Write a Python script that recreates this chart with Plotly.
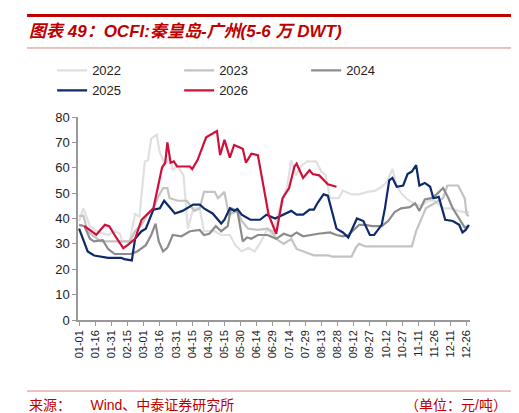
import plotly.graph_objects as go

# day-of-year (0 = 01-01) and value pairs
DAYS_2022 = [0, 4, 10, 16, 27, 33, 38, 40, 47, 52, 56, 61, 64, 67, 72, 75, 80, 84, 87, 91, 94, 97, 101, 106, 112, 116, 126, 132, 140, 145, 151, 157, 163, 169, 175, 179, 183, 188, 193, 197, 201, 207, 212, 220, 225, 229, 233, 241, 245, 253, 260, 268, 275, 281, 286, 291, 295, 299, 305, 312, 318, 324, 330, 338, 345, 352, 358, 362]
VALS_2022 = [39, 44, 37, 35, 33.5, 35, 34, 31, 31, 42, 40.5, 62.5, 63, 71.5, 73, 66, 61, 64, 59, 61, 59, 57, 36, 44, 44, 35, 35, 33.5, 33.5, 29.5, 27, 28.5, 27, 31, 36, 33.5, 39, 47, 52, 63, 57, 61, 62.5, 62.5, 58.5, 57, 48, 48, 51, 49.5, 49.5, 50.5, 51, 52.5, 54.5, 59.5, 53, 50, 47.5, 45.5, 45, 47, 47, 44, 44, 43, 42.5, 42.5]

DAYS_2023 = [0, 4, 8, 12, 20, 47, 52, 58, 64, 69, 74, 78, 82, 84, 92, 100, 107, 112, 116, 126, 129, 135, 139, 147, 151, 157, 166, 175, 179, 183, 190, 197, 202, 212, 218, 231, 235, 253, 257, 260, 266, 272, 302, 309, 313, 318, 322, 328, 338, 342, 352, 358, 360, 362]
VALS_2023 = [41, 41, 35, 33.5, 31, 31, 35, 37.5, 42, 44, 49, 52, 52, 48, 47, 47, 43, 44, 50.5, 50.5, 48, 50.5, 41.5, 43, 39, 36, 35.5, 36, 35, 32, 30, 32, 28, 26.5, 25.5, 25.5, 25, 25, 28.5, 30, 29, 29, 29, 29, 35, 40, 44, 45.5, 48, 53, 53, 48, 41.5, 41]

DAYS_2024 = [0, 5, 10, 14, 22, 27, 33, 48, 54, 62, 67, 71, 74, 78, 82, 87, 95, 103, 112, 116, 121, 127, 132, 138, 141, 147, 152, 156, 160, 166, 175, 183, 190, 197, 202, 208, 222, 233, 239, 245, 250, 260, 266, 272, 281, 287, 293, 299, 307, 312, 316, 321, 327, 332, 338, 343, 347, 352, 358, 362]
VALS_2024 = [37.5, 37, 32, 31, 31.5, 28, 26, 26, 27, 29.5, 33.5, 38, 31, 27, 28.5, 33.5, 33, 35, 35.5, 33.5, 34, 37, 35, 37, 44, 43, 31, 32.5, 32, 33.5, 33.5, 32, 34, 33, 34.5, 33, 34, 34.5, 33.5, 33, 33.5, 37.5, 37.5, 37, 37, 39, 42.5, 44, 44.5, 46, 43, 47.5, 48, 49.5, 52, 48, 44, 40.5, 36.5, 37]

DAYS_2025 = [0, 8, 14, 27, 39, 42, 49, 52, 58, 62, 69, 75, 79, 89, 96, 106, 112, 116, 124, 132, 135, 140, 144, 147, 151, 159, 168, 174, 182, 189, 197, 202, 208, 214, 218, 222, 227, 231, 239, 245, 250, 258, 264, 270, 274, 281, 284, 288, 291, 295, 301, 305, 309, 313, 316, 321, 326, 329, 334, 340, 347, 353, 356, 359, 362]
VALS_2025 = [36, 27, 25.4, 24.5, 24.5, 24, 23.5, 32, 35, 36, 43.5, 44, 47, 42, 43, 45.5, 45.5, 44, 42, 38, 39.5, 44, 43, 43.8, 41.5, 39.5, 39.5, 41.5, 40, 41.5, 43, 41.5, 41.5, 43.5, 43.5, 46.5, 49.5, 49, 36, 34.5, 32.5, 40, 39, 33.5, 33.5, 37.5, 44, 55, 56, 52.5, 53, 57.5, 58.5, 61, 53, 54, 52.5, 48, 48.5, 39.5, 39, 37.5, 34.5, 35.5, 37.5]

DAYS_2026 = [5, 16, 24, 28, 33, 41, 45, 52, 58, 69, 77, 80, 82, 85, 88, 91, 103, 105, 110, 118, 128, 131, 135, 140, 144, 152, 155, 160, 166, 172, 176, 183, 189, 195, 200, 202, 208, 214, 217, 223, 231, 239]
VALS_2026 = [37, 33.6, 37.5, 37, 33.5, 28.3, 29.5, 32, 39.5, 44, 60, 62, 70, 62, 62.5, 60.5, 60.5, 59.5, 63, 72, 74.5, 65, 71, 64, 69, 67.5, 62, 65.5, 65, 50, 41.5, 34, 48, 52, 60.5, 61.6, 56, 59, 57.5, 57, 53.5, 52.5]

SERIES = [
    ("2022", DAYS_2022, VALS_2022, "#e0e0e0"),
    ("2023", DAYS_2023, VALS_2023, "#c3c3c3"),
    ("2024", DAYS_2024, VALS_2024, "#8c8c8c"),
    ("2025", DAYS_2025, VALS_2025, "#0d2a6b"),
    ("2026", DAYS_2026, VALS_2026, "#d0103a"),
]

TICK_DAYS = list(range(0, 361, 15))
TICK_TEXT = ["01-01", "01-16", "01-31", "02-15", "03-01", "03-16", "03-31", "04-15",
             "04-30", "05-15", "05-30", "06-14", "06-29", "07-14", "07-29", "08-13",
             "08-28", "09-12", "09-27", "10-12", "10-27", "11-11", "11-26", "12-11", "12-26"]

RED = "#c00000"
FONT = "Liberation Sans, Noto Sans CJK SC, sans-serif"

fig = go.Figure()
for name, days, vals, color in SERIES:
    fig.add_trace(go.Scatter(x=days, y=vals, name=name, mode="lines",
                             line=dict(color=color, width=2.2)))

fig.update_layout(
    width=519, height=413,
    paper_bgcolor="white", plot_bgcolor="white",
    margin=dict(l=70, r=57, t=109, b=101, autoexpand=False),
    font=dict(family=FONT, size=12, color="#222"),
    legend=dict(orientation="h", x=0.42, xanchor="center", y=1.18, yanchor="middle",
                font=dict(size=13), entrywidth=82, entrywidthmode="pixels"),
    xaxis=dict(range=[-1, 363], tickvals=TICK_DAYS, ticktext=TICK_TEXT, tickangle=-90,
               automargin=False,
               showgrid=False, zeroline=False, showline=True, linecolor="#999", linewidth=1.5,
               ticks="outside", tickcolor="#999", ticklen=4, tickfont=dict(size=11)),
    yaxis=dict(range=[0, 80], dtick=10, showgrid=False, zeroline=False, showline=True,
               automargin=False,
               linecolor="#999", linewidth=1.5, ticks="outside", tickcolor="#999",
               ticklen=4, tickfont=dict(size=13)),
)

# header / footer rules and text
fig.add_shape(type="line", xref="paper", yref="paper", x0=-0.13, x1=1.12,
              y0=1.5, y1=1.5, line=dict(color=RED, width=3))
fig.add_shape(type="line", xref="paper", yref="paper", x0=-0.13, x1=1.12,
              y0=1.34, y1=1.34, line=dict(color="#e08080", width=1))
fig.add_shape(type="line", xref="paper", yref="paper", x0=-0.13, x1=1.12,
              y0=-0.35, y1=-0.35, line=dict(color="#e08080", width=1))
fig.add_annotation(xref="paper", yref="paper", x=-0.13, y=1.42, xanchor="left",
                   yanchor="middle", showarrow=False,
                   text="<b><i>图表 49：OCFI:秦皇岛-广州(5-6 万 DWT)</i></b>",
                   font=dict(size=17, color=RED))
fig.add_annotation(xref="paper", yref="paper", x=-0.13, y=-0.42, xanchor="left",
                   yanchor="middle", showarrow=False,
                   text="来源：     Wind、中泰证券研究所", font=dict(size=14, color=RED))
fig.add_annotation(xref="paper", yref="paper", x=1.1, y=-0.42, xanchor="right",
                   yanchor="middle", showarrow=False,
                   text="（单位：元/吨）", font=dict(size=14, color=RED))

fig.write_html("out.html")
